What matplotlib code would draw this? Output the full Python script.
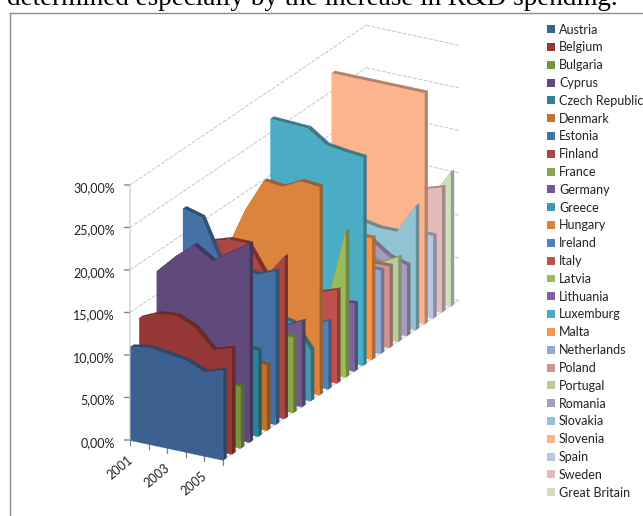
import matplotlib

matplotlib.use("Agg")

import matplotlib.pyplot as plt
import numpy as np
from matplotlib.patches import Patch
from mpl_toolkits.mplot3d import proj3d
from mpl_toolkits.mplot3d.art3d import Poly3DCollection

# Data, hidden parts are estimates
years = [2001, 2002, 2003, 2004, 2005, 2006]
year_labels = {2001: "2001", 2003: "2003", 2005: "2005"}
value_ticks = [0, 5, 10, 15, 20, 25, 30]

austria = [11.0, 11.4, 11.1, 10.8, 9.9, 10.6]
belgium = [13.7, 14.7, 14.9, 14.0, 11.8, 12.5]
bulgaria = [6.5, 6.6, 6.8, 7.0, 7.1, 7.3]
cyprus = [17.8, 20.0, 21.8, 20.4, 21.9, 23.4]
czech = [10.5, 10.6, 10.8, 10.5, 10.3, 10.1]
denmark = [8.5, 8.4, 8.2, 8.0, 7.8, 7.7]
estonia = [23.1, 22.5, 17.8, 17.7, 17.2, 18.1]
finland = [18.0, 19.0, 19.7, 19.7, 16.3, 19.1]
france = [8.5, 8.6, 8.7, 8.8, 8.8, 8.9]
germany = [9.5, 9.4, 9.3, 9.2, 9.0, 10.1]
greece = [9.0, 9.2, 9.3, 9.1, 8.8, 6.0]
hungary = [14.8, 19.9, 23.8, 23.6, 24.7, 24.5]
ireland = [7.5, 7.4, 7.2, 7.1, 7.0, 8.0]
italy = [10.0, 10.1, 10.2, 10.2, 10.2, 11.0]
latvia = [7.5, 7.6, 7.8, 8.0, 8.2, 17.2]
lithuania = [7.0, 7.2, 7.4, 7.6, 7.8, 8.0]
luxemburg = [26.7, 26.6, 26.5, 25.0, 24.7, 24.5]
malta = [14.0, 14.1, 14.2, 14.2, 14.2, 14.3]
netherlands = [10.0, 10.0, 9.9, 9.9, 9.8, 9.8]
poland = [9.5, 9.5, 9.6, 9.6, 9.5, 9.6]
portugal = [9.8, 9.6, 9.3, 9.3, 8.8, 10.0]
romania = [12.0, 11.5, 11.0, 10.4, 8.9, 8.3]
slovakia = [12.5, 12.0, 11.5, 11.1, 11.1, 14.6]
slovenia = [27.2, 27.2, 27.2, 27.2, 27.2, 27.2]
spain = [9.5, 9.5, 9.6, 9.6, 9.7, 9.7]
sweden = [14.5, 14.4, 14.3, 14.2, 14.0, 14.7]
great_britain = [11.5, 11.6, 11.8, 12.0, 12.5, 15.8]

countries = ["Austria", "Belgium", "Bulgaria", "Cyprus", "Czech Republic",
             "Denmark", "Estonia", "Finland", "France", "Germany", "Greece",
             "Hungary", "Ireland", "Italy", "Latvia", "Lithuania", "Luxemburg",
             "Malta", "Netherlands", "Poland", "Portugal", "Romania",
             "Slovakia", "Slovenia", "Spain", "Sweden", "Great Britain"]
series = [austria, belgium, bulgaria, cyprus, czech, denmark, estonia, finland,
          france, germany, greece, hungary, ireland, italy, latvia, lithuania,
          luxemburg, malta, netherlands, poland, portugal, romania, slovakia,
          slovenia, spain, sweden, great_britain]
colors = ["#3c6191", "#943735", "#779440", "#5f4a7b", "#2f8197", "#c0732f",
          "#4471a6", "#aa4643", "#89a54e", "#71588f", "#4198af", "#db843d",
          "#4f81bd", "#c0504d", "#9bbb59", "#8064a2", "#4bacc6", "#f79646",
          "#95a9d0", "#d19392", "#b9cd96", "#a99bbd", "#91c3d5", "#fbb48c",
          "#b9c6e0", "#e4bbbb", "#d0deBB"]

RIBBON = 0.4  # depth of one ribbon, in series units
GRID = "#c6c6c6"
TICK = "#808080"
TEXT = "#222222"
FONT = 9


def darker(color, f=0.72):
    return tuple(c * f for c in matplotlib.colors.to_rgb(color))


def label_at(ax, x, y, z, text, offset, **kwargs):
    """Write a plain 2D label next to a point of the 3D box"""
    xp, yp, _ = proj3d.proj_transform(x, y, z, ax.get_proj())
    ax.annotate(text, xy=(xp, yp), xytext=offset, textcoords="offset points",
                fontsize=FONT, color=TEXT, annotation_clip=False, **kwargs)


plt.rcParams["font.family"] = ["Lato", "DejaVu Sans"]

fig = plt.figure(figsize=(6.43, 5.16), dpi=100)

# square 3D axes, oblique look comes from the view angles and the box aspect
size = 548
left, bottom = 13.0, -8.0
ax = fig.add_axes([left / 643, bottom / 516, size / 643, size / 516],
                  projection="3d", proj_type="ortho", computed_zorder=False)
ax.view_init(elev=22.4, azim=-60.6)
ax.set_box_aspect((106.8, 483, 277))
ax.set_xlim(0, len(years) - 1, view_margin=0)
ax.set_ylim(0, len(series), view_margin=0)
ax.set_zlim(0, 30, view_margin=0)
ax.set_axis_off()
ax.patch.set_alpha(0)

xs = np.arange(len(years))
n = len(series)
top_value = value_ticks[-1]
dashes = (0, (4, 1.5))

# walls
for v in value_ticks:
    ax.plot([0, 0], [0, n], [v, v], color=GRID, lw=0.7, ls=dashes, zorder=1)
    ax.plot([0, xs[-1]], [n, n], [v, v], color=GRID, lw=0.7, ls=dashes, zorder=1)
    ax.plot([-0.28, 0], [0, 0], [v - 0.13, v], color=TICK, lw=1.0, zorder=1)
    label_at(ax, 0, 0, v, "{:.2f}%".format(v).replace(".", ","), (-10.8, -2),
             ha="right", va="center")
ax.plot([0, 0], [0, 0], [0, top_value], color="#d4d4d4", lw=1.1, zorder=1)
ax.plot([0, xs[-1]], [0, 0], [0, 0], color="#d4d4d4", lw=1.0, zorder=1)
ax.plot([xs[-1], xs[-1]], [0, n], [0, 0], color="#d4d4d4", lw=0.8, zorder=1)
for x, year in zip(xs, years):
    ax.plot([x, x], [0, 0], [0, -0.55], color=TICK, lw=0.9, zorder=1)
    if year in year_labels:
        label_at(ax, x, 0, 0, year_labels[year], (0.5, -13), rotation=40, ha="right",
                 va="center", rotation_mode="anchor")

# ribbons, back to front
for i in range(n - 1, -1, -1):
    vals = series[i]
    y0, y1 = i, i + RIBBON
    base = colors[i]
    shade = darker(base)

    front = [(x, y0, 0) for x in xs] + [(x, y0, v) for x, v in zip(xs[::-1], vals[::-1])]
    side = [(xs[-1], y0, 0), (xs[-1], y1, 0), (xs[-1], y1, vals[-1]), (xs[-1], y0, vals[-1])]
    faces = [(side, shade)]
    for k in range(len(xs) - 1):
        top = [(xs[k], y0, vals[k]), (xs[k + 1], y0, vals[k + 1]),
               (xs[k + 1], y1, vals[k + 1]), (xs[k], y1, vals[k])]
        faces.append((top, shade))
    faces.append((front, base))

    for j, (poly, col) in enumerate(faces):
        ax.add_collection3d(Poly3DCollection([poly], facecolors=col, edgecolors=col,
                                             linewidths=0.2, zorder=10 + (n - i) * 10 + j))

handles = [Patch(facecolor=c, edgecolor="none") for c in colors]
fig.legend(handles, countries, loc="upper left", bbox_to_anchor=(544.5 / 643, 1 - 21 / 516),
           frameon=False, fontsize=FONT, labelcolor=TEXT, labelspacing=0.465,
           handlelength=0.6, handleheight=0.6, handletextpad=0.36,
           borderpad=0.2, borderaxespad=0)

# the report text and rule above the chart
fig.text(7 / 643, 1 - 5 / 516, "determined especially by the increase in R&D spending.",
         family="Liberation Serif", fontsize=19.5, color="black", va="baseline")
fig.add_artist(plt.Line2D([9.5 / 643, 1], [1 - 12.5 / 516, 1 - 12.5 / 516], color="#8c8c8c", lw=1))
fig.add_artist(plt.Line2D([9.5 / 643, 9.5 / 643], [0, 1 - 12.5 / 516], color="#8c8c8c", lw=1))

fig.savefig("out.png", dpi=100)
